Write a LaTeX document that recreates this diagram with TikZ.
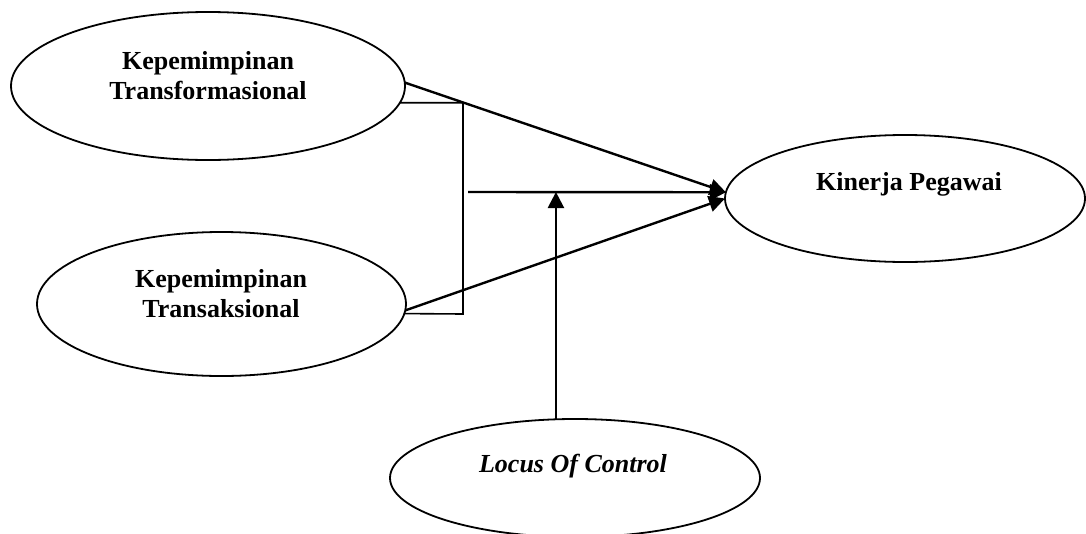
\documentclass[tikz,border=0pt]{standalone}
\usepackage{fontspec}
\setmainfont{Liberation Serif}
\usetikzlibrary{arrows.meta,shapes.geometric}
\begin{document}
\begin{tikzpicture}[x=1pt,y=-1pt,
  oval/.style={draw, ellipse, line width=1.8pt, inner sep=0pt, outer sep=0pt},
  lbl/.style={font=\fontsize{26}{30}\selectfont\bfseries, align=center, inner sep=0pt},
  lbli/.style={font=\fontsize{26}{30}\selectfont\bfseries\itshape, inner sep=0pt},
  link/.style={line width=2.4pt, -{Triangle[length=16pt,width=16pt]}},
  bracketline/.style={line width=1.6pt}]
\useasboundingbox (0,0) rectangle (1086,533);
\fill[white] (0,0) rectangle (1086,533);
% ovals
\node[oval, minimum width=394pt, minimum height=148pt] (e1) at (208,86) {};
\node[oval, minimum width=369pt, minimum height=144pt] (e2) at (221.5,304) {};
\node[oval, minimum width=360pt, minimum height=127pt] (kin) at (905,198.5) {};
\node[oval, minimum width=370pt, minimum height=118pt] (loc) at (575,478) {};
% texts
\node[lbl] (t1) at (208,76) {Kepemimpinan\\Transformasional};
\node[lbl] (t2) at (221,294) {Kepemimpinan\\Transaksional};
\node[lbl, anchor=base] (t3) at (909,190) {Kinerja Pegawai};
\node[lbli, anchor=base] (t4) at (573,472) {Locus Of Control};
% connectors
\coordinate (bj) at (463,314);
\coordinate (mid) at (468,192);
\draw[bracketline] (e1.-5) -| (bj) -- (e2.-3);
\draw[link] (e1.1) -- (kin.178);
\draw[link] (e2.-2.5) -- (kin.west);
\draw[link] (mid) -- (kin.178);
\draw[link] (loc.108.8) -- (loc.108.8 |- mid);
\end{tikzpicture}
\end{document}
